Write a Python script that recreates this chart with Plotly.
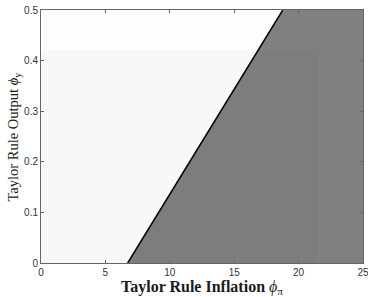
import plotly.graph_objects as go

# Boundary between determinacy regions (phi_pi, phi_y)
boundary_phi_pi = [6.73, 18.77]
boundary_phi_y = [0.0, 0.5]

x_range = [0, 25]
y_range = [0, 0.5]
# faint inner grid rectangle (slightly darker shading)
rect_phi_pi = [0, 21.5]
rect_phi_y = [0, 0.42]

x_ticks = [0, 5, 10, 15, 20, 25]
y_ticks = [0, 0.1, 0.2, 0.3, 0.4, 0.5]
y_tick_labels = ["0", "0.1", "0.2", "0.3", "0.4", "0.5"]

x_title = "<b>Taylor Rule Inflation</b> <i>ϕ</i><sub>π</sub>"
y_title = "Taylor Rule Output <i>ϕ</i><sub>y</sub>"

fig = go.Figure()

# light region (left of boundary)
fig.add_trace(go.Scatter(
    x=[x_range[0], boundary_phi_pi[0], boundary_phi_pi[1], x_range[0], x_range[0]],
    y=[y_range[0], boundary_phi_y[0], boundary_phi_y[1], y_range[1], y_range[0]],
    fill="toself", fillcolor="#fdfdfd", line=dict(width=0), mode="lines",
    hoverinfo="skip", showlegend=False))

# dark region (right of boundary)
fig.add_trace(go.Scatter(
    x=[boundary_phi_pi[0], x_range[1], x_range[1], boundary_phi_pi[1], boundary_phi_pi[0]],
    y=[boundary_phi_y[0], y_range[0], y_range[1], boundary_phi_y[1], boundary_phi_y[0]],
    fill="toself", fillcolor="#808080", line=dict(width=0), mode="lines",
    hoverinfo="skip", showlegend=False))

# faint overlay rectangle
fig.add_trace(go.Scatter(
    x=[rect_phi_pi[0], rect_phi_pi[1], rect_phi_pi[1], rect_phi_pi[0], rect_phi_pi[0]],
    y=[rect_phi_y[0], rect_phi_y[0], rect_phi_y[1], rect_phi_y[1], rect_phi_y[0]],
    fill="toself", fillcolor="rgba(0,0,0,0.02)", line=dict(width=0), mode="lines",
    hoverinfo="skip", showlegend=False))

# boundary line
fig.add_trace(go.Scatter(
    x=boundary_phi_pi, y=boundary_phi_y, mode="lines",
    line=dict(color="black", width=1.5), hoverinfo="skip", showlegend=False))

axis_common = dict(
    showgrid=False, zeroline=False, showline=True, linecolor="#666666", linewidth=1,
    mirror="allticks", ticks="inside", ticklen=3, tickcolor="#666666",
    automargin=False, ticklabeloverflow="allow",
    tickfont=dict(family="Liberation Sans, Arial", size=10, color="#333333"),
)

fig.update_layout(
    width=368, height=297,
    margin=dict(l=41, r=5, t=10, b=34),
    paper_bgcolor="white", plot_bgcolor="white",
    xaxis=dict(range=x_range, tickvals=x_ticks, **axis_common),
    yaxis=dict(range=y_range, tickvals=y_ticks, ticktext=y_tick_labels, **axis_common),
    annotations=[
        dict(text=x_title, xref="paper", yref="paper", x=0.5, y=0,
             xanchor="center", yanchor="middle", yshift=-24, showarrow=False,
             font=dict(family="Liberation Serif, Times New Roman", size=16, color="#1a1a1a")),
        dict(text=y_title, xref="paper", yref="paper", x=0, y=0.5,
             xanchor="center", yanchor="middle", xshift=-28, textangle=-90, showarrow=False,
             font=dict(family="Liberation Serif, Times New Roman", size=14.5, color="#1a1a1a")),
    ],
)

fig.write_html("out.html", config={"displayModeBar": False},
               post_script="document.body.style.margin='0px';")
